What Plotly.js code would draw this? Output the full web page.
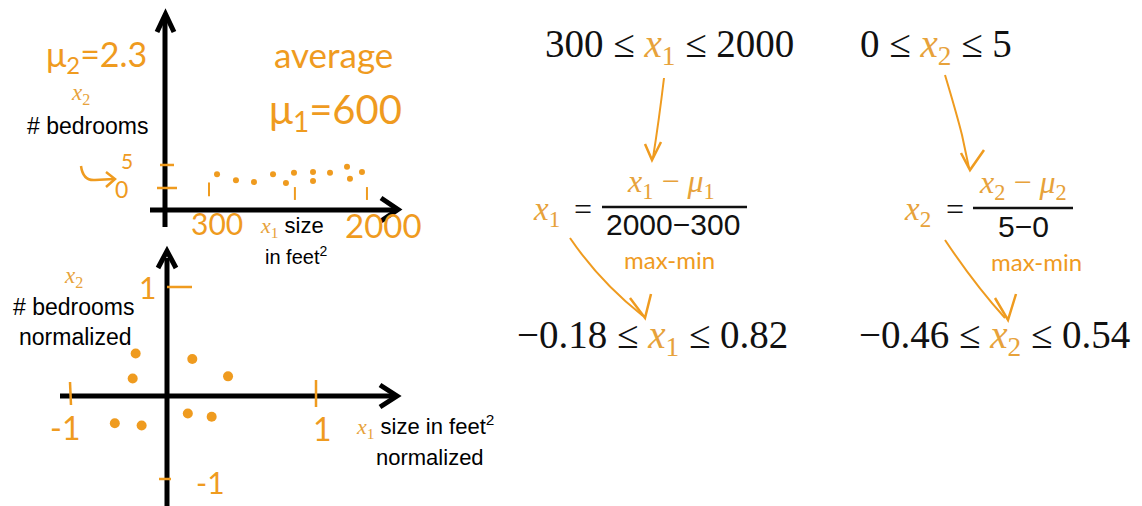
<!DOCTYPE html>
<html>
<head>
<meta charset="utf-8">
<script src="https://cdn.plot.ly/plotly-3.0.1.min.js"></script>
<style>
  html, body { margin: 0; padding: 0; background: #ffffff; }
  #chart { width: 1142px; height: 506px; }
</style>
</head>
<body>
<div id="chart"></div>
<script>
// Houses before scaling: size (feet^2) and number of bedrooms
const sizeSqft = [387, 592, 787, 993, 1133, 1220, 1426, 1426, 1610, 1794, 1826, 1956];
const bedrooms = [3.0, 1.7, 1.3, 3.0, 1.1, 3.3, 3.5, 1.5, 3.3, 4.6, 2.0, 3.5];

// The same houses after mean normalization
const sizeNorm = [-0.21, -0.23, 0.17, 0.41, -0.35, -0.17, 0.14, 0.30];
const bedroomsNorm = [0.39, 0.16, 0.34, 0.18, -0.25, -0.27, -0.16, -0.19];

// Hand-written axis labels
const rawXLabels = ['300', '2000'];
const rawYLabels = ['5', '0'];
const normLabels = ['-1', '1'];

const W = 1142, H = 506;
const ORANGE = '#EF9B1F';
const MATHORANGE = '#E7A23A';
const SERIF = "'Liberation Serif', 'DejaVu Serif', serif";
const SANS = "'Liberation Sans', Arial, sans-serif";
const HAND = "Lato, 'Open Sans', sans-serif";

// pixel -> paper helpers
const px = v => v / W;
const py = v => 1 - v / H;

// convert an SVG-like path written in pixels into paper units
function paperPath(s) {
  const tokens = s.trim().split(/[\s,]+/);
  const out = [];
  let isX = true;
  for (const t of tokens) {
    if (/^[A-Za-z]$/.test(t)) { out.push(t); isX = true; continue; }
    const v = parseFloat(t);
    out.push((isX ? px(v) : py(v)).toFixed(5));
    isX = !isX;
  }
  return out.join(' ');
}

const shapes = [];
function stroke(path, color, width) {
  shapes.push({ type: 'path', xref: 'paper', yref: 'paper', path: paperPath(path),
    line: { color: color, width: width }, layer: 'above' });
}

const annotations = [];
function label(x, y, text, size, color, family, opts) {
  annotations.push(Object.assign({
    xref: 'paper', yref: 'paper', x: px(x), y: py(y), text: text, showarrow: false,
    xanchor: 'center', yanchor: 'middle',
    font: { size: size, color: color, family: family }
  }, opts || {}));
}

const xo = (n) => `<span style="color:${MATHORANGE};font-family:${SERIF.replace(/'/g, '')}"><i>x</i><sub>${n}</sub></span>`;

// ---------- top-left: raw features ----------
// axes with arrow heads
stroke('M 165 20 L 165 227', '#000', 5);
stroke('M 157 32 L 165.5 14 L 174 32', '#000', 5);
stroke('M 150 210 L 394 210', '#000', 5);
stroke('M 381 198 L 398 209.5 L 381 221', '#000', 5);

// hand-drawn ticks on the y axis (at 5 and 0 bedrooms)
shapes.push({ type: 'line', xref: 'paper', yref: 'y', x0: px(160), x1: px(174), y0: 5, y1: 5,
  line: { color: ORANGE, width: 2.5 }, layer: 'above' });
shapes.push({ type: 'line', xref: 'paper', yref: 'y', x0: px(157), x1: px(177), y0: 0, y1: 0,
  line: { color: ORANGE, width: 2.5 }, layer: 'above' });
// small hand strokes at 300, mid and 2000
[300, 1230, 2010].forEach((v, i) => {
  shapes.push({ type: 'line', xref: 'x', yref: 'y', x0: v, x1: v, y0: i ? -2.6 : -1.8, y1: i ? 0.2 : 1.2,
    line: { color: ORANGE, width: 2 }, layer: 'above' });
});

label(96, 56, 'μ<sub>2</sub>=2.3', 34, ORANGE, HAND);
label(80, 110, '<i>x</i><sub>2</sub>', 23, MATHORANGE, SERIF, { yanchor: 'bottom' });
label(87, 111, '# bedrooms', 23, '#000', SANS, { yanchor: 'top' });
label(333, 54, 'average', 35, ORANGE, HAND);
label(335, 111, 'μ<sub>1</sub>=600', 40, ORANGE, HAND);
label(127, 161, rawYLabels[0], 21, ORANGE, HAND);
label(121, 189, rawYLabels[1], 23, ORANGE, HAND);
stroke('M 81 166 Q 83 181 95 180 L 114 179', ORANGE, 2.5);
stroke('M 106 172 L 115 179 L 106 187', ORANGE, 2.5);
label(217, 223, rawXLabels[0], 30, ORANGE, HAND);
label(383, 225, rawXLabels[1], 33, ORANGE, HAND);
label(292, 243, xo(1) + ' size', 22, '#000', SANS, { yanchor: 'bottom' });
label(296, 241, 'in feet<sup>2</sup>', 20, '#000', SANS, { yanchor: 'top' });

// ---------- bottom-left: normalized features ----------
stroke('M 167 258 L 167 506', '#000', 5);
stroke('M 158 268 L 167 251 L 176 268', '#000', 5);
stroke('M 60 396 L 393 396', '#000', 5);
stroke('M 380 385 L 397 396 L 380 407', '#000', 5);

stroke('M 70 382 L 71 405', ORANGE, 2.5);
stroke('M 316 380 L 316 407', ORANGE, 2.5);
stroke('M 167 287 L 192 287', ORANGE, 2.5);
stroke('M 159 479 L 171 479', ORANGE, 2.5);

label(74, 293, '<i>x</i><sub>2</sub>', 23, MATHORANGE, SERIF, { yanchor: 'bottom' });
label(73, 307, '# bedrooms', 23, '#000', SANS);
label(75, 337, 'normalized', 23, '#000', SANS);
label(148, 287, normLabels[1], 30, ORANGE, HAND);
label(65, 427, normLabels[0], 32, ORANGE, HAND);
label(322, 428, normLabels[1], 32, ORANGE, HAND);
label(210, 482, normLabels[0], 30, ORANGE, HAND);
label(354, 444, xo(1) + ' size in feet<sup>2</sup>', 22, '#000', SANS, { xanchor: 'left', yanchor: 'bottom' });
label(430, 443, 'normalized', 22, '#000', SANS, { yanchor: 'top' });

// ---------- right: feature scaling formulas ----------
const le = ' ≤ ';
label(669, 46, '300' + le + xo(1) + le + '2000', 39, '#111', SERIF);
label(936, 46, '0' + le + xo(2) + le + '5', 39, '#111', SERIF);

// arrows down to the formulas
stroke('M 664 78 Q 659 120 653 158', ORANGE, 2);
stroke('M 645 144 L 652 160 L 661 142', ORANGE, 2.5);
stroke('M 945 75 Q 957 115 962 135 L 969 168', ORANGE, 2);
stroke('M 961 153 L 970 170 L 984 150', ORANGE, 2.5);

const mu = n => `<i>μ</i><sub>${n}</sub>`;
const xi = n => `<i>x</i><sub>${n}</sub>`;

label(546, 211, xi(1), 33, MATHORANGE, SERIF);
label(583, 209, '=', 32, '#111', SERIF);
label(671, 188, xi(1) + ' − ' + mu(1), 32, MATHORANGE, SERIF, { yanchor: 'bottom', y: py(206) });
stroke('M 602 207 L 747 207', '#111', 2.5);
label(673, 243, '2000−300', 30, '#111', SANS, { yanchor: 'bottom' });
label(669, 243, 'max-min', 24, ORANGE, HAND, { yanchor: 'top' });

label(917, 211, xi(2), 33, MATHORANGE, SERIF);
label(955, 209, '=', 32, '#111', SERIF);
label(1023, 188, xi(2) + ' − ' + mu(2), 32, MATHORANGE, SERIF, { yanchor: 'bottom', y: py(207) });
stroke('M 973 208 L 1073 208', '#111', 2.5);
label(1023, 245, '5−0', 30, '#111', SANS, { yanchor: 'bottom' });
label(1036, 245, 'max-min', 24, ORANGE, HAND, { yanchor: 'top' });

// curved arrows to the normalized ranges
stroke('M 570 238 Q 600 282 643 316', ORANGE, 2);
stroke('M 630 298 L 645 318 L 651 294', ORANGE, 2.5);
stroke('M 945 240 Q 975 285 1005 318', ORANGE, 2);
stroke('M 995 298 L 1008 320 L 1016 294', ORANGE, 2.5);

label(652, 337, '−0.18' + le + xo(1) + le + '0.82', 39, '#111', SERIF);
label(994, 337, '−0.46' + le + xo(2) + le + '0.54', 39, '#111', SERIF);

const traces = [
  {
    type: 'scatter', mode: 'markers', x: sizeSqft, y: bedrooms, xaxis: 'x', yaxis: 'y',
    marker: { color: ORANGE, size: 6 }, hoverinfo: 'skip'
  },
  {
    type: 'scatter', mode: 'markers', x: sizeNorm, y: bedroomsNorm, xaxis: 'x2', yaxis: 'y2',
    marker: { color: ORANGE, size: 10 }, hoverinfo: 'skip'
  }
];

const layout = {
  width: W, height: H,
  margin: { l: 0, r: 0, t: 0, b: 0 },
  font: { family: SANS, size: 22, color: '#000' },
  paper_bgcolor: '#ffffff', plot_bgcolor: 'rgba(0,0,0,0)',
  showlegend: false,
  xaxis: { domain: [px(150), px(398)], range: [-338.5, 2346], visible: false, anchor: 'y', fixedrange: true },
  yaxis: { domain: [py(227), py(15)], range: [-8.48, 37.6], visible: false, anchor: 'x', fixedrange: true },
  xaxis2: { domain: [px(50), px(400)], range: [-0.785, 1.564], visible: false, anchor: 'y2', fixedrange: true },
  yaxis2: { domain: [0, py(250)], range: [-1.009, 1.339], visible: false, anchor: 'x2', fixedrange: true },
  shapes: shapes,
  annotations: annotations
};

Plotly.newPlot('chart', traces, layout, { staticPlot: true, displayModeBar: false });
</script>
</body>
</html>
